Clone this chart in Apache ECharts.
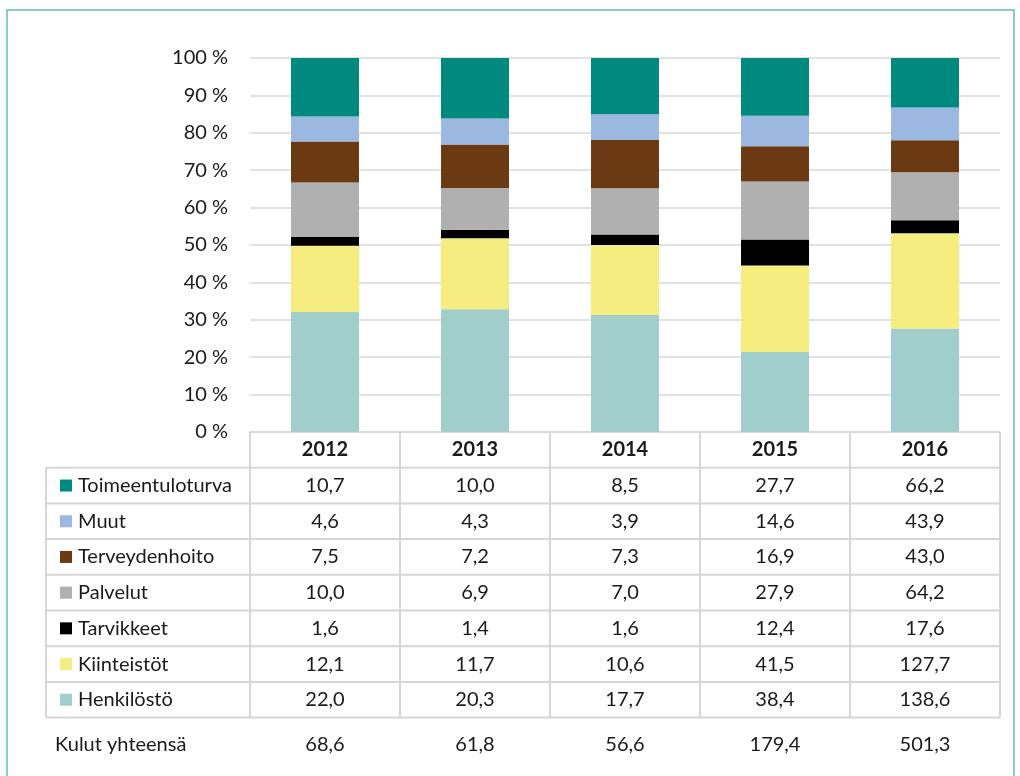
<!DOCTYPE html>
<html>
<head>
<meta charset="utf-8">
<script src="https://cdn.jsdelivr.net/npm/echarts@6/dist/echarts.min.js"></script>
<style>
  html, body { margin: 0; padding: 0; background: #fff; }
  #chart { width: 1020px; height: 776px; }
</style>
</head>
<body>
<div id="chart"></div>
<script>
// Expense categories per year (millions), 2012–2016
const years = ['2012', '2013', '2014', '2015', '2016'];
const henkilosto = [22.0, 20.3, 17.7, 38.4, 138.6];
const kiinteistot = [12.1, 11.7, 10.6, 41.5, 127.7];
const tarvikkeet = [1.6, 1.4, 1.6, 12.4, 17.6];
const palvelut = [10.0, 6.9, 7.0, 27.9, 64.2];
const terveydenhoito = [7.5, 7.2, 7.3, 16.9, 43.0];
const muut = [4.6, 4.3, 3.9, 14.6, 43.9];
const toimeentuloturva = [10.7, 10.0, 8.5, 27.7, 66.2];
const totals = [68.6, 61.8, 56.6, 179.4, 501.3];
const yTicks = [0, 10, 20, 30, 40, 50, 60, 70, 80, 90, 100];

// Stacking order, bottom to top
const seriesDefs = [
  { name: 'Henkilöstö', data: henkilosto, color: '#a1cdca' },
  { name: 'Kiinteistöt', data: kiinteistot, color: '#f6ed80' },
  { name: 'Tarvikkeet', data: tarvikkeet, color: '#000000' },
  { name: 'Palvelut', data: palvelut, color: '#b0b0b0' },
  { name: 'Terveydenhoito', data: terveydenhoito, color: '#6b3a13' },
  { name: 'Muut', data: muut, color: '#9bb8e0' },
  { name: 'Toimeentuloturva', data: toimeentuloturva, color: '#00897e' }
];
// Table rows, top to bottom
const tableRows = seriesDefs.slice().reverse();

const FONT = 'Lato, "Open Sans", sans-serif';
const TXT = '#1a1a1a';
const LINE = '#d6d6d6';
const fmt = v => v.toFixed(1).replace('.', ',');

const W = 1020, H = 776;
const gridLeft = 250, gridRight = 1000, gridTop = 58, gridBottom = 432;
const rowH = 35.7;
const tableLeft = 46;
const colW = (gridRight - gridLeft) / years.length;

// Percentage shares of each year's sum
const sums = years.map((_, i) => seriesDefs.reduce((s, d) => s + d.data[i], 0));

const series = seriesDefs.map(d => ({
  name: d.name,
  type: 'bar',
  stack: 'all',
  barWidth: 68,
  itemStyle: { color: d.color },
  data: d.data.map((v, i) => v / sums[i] * 100),
  emphasis: { disabled: true }
}));

const xAxes = [{
  type: 'category',
  data: years,
  axisLine: { show: false },
  axisTick: { show: false },
  axisLabel: { fontFamily: FONT, fontSize: 20, fontWeight: 'bold', color: TXT, verticalAlign: 'middle', margin: rowH / 2 }
}];
tableRows.forEach((r, k) => {
  xAxes.push({
    type: 'category',
    data: r.data.map(fmt),
    position: 'bottom',
    offset: rowH * (k + 1),
    axisLine: { show: false },
    axisTick: { show: false },
    axisLabel: { interval: 0, fontFamily: FONT, fontSize: 20, color: TXT, verticalAlign: 'middle', margin: rowH / 2 }
  });
});
xAxes.push({
  type: 'category',
  data: totals.map(fmt),
  position: 'bottom',
  offset: 313,
  axisLine: { show: false },
  axisTick: { show: false },
  axisLabel: { interval: 0, fontFamily: FONT, fontSize: 20, color: TXT, verticalAlign: 'middle', margin: 0 }
});

// Table borders
const graphics = [];
const lineStyle = { stroke: LINE, lineWidth: 2 };
const hline = (x1, x2, y) => graphics.push({ type: 'line', shape: { x1, y1: y, x2, y2: y }, style: lineStyle, silent: true });
const vline = (x, y1, y2) => graphics.push({ type: 'line', shape: { x1: x, y1, x2: x, y2 }, style: lineStyle, silent: true });
const tableBottom = gridBottom + rowH * (tableRows.length + 1);
hline(gridLeft, gridRight, gridBottom);
for (let k = 1; k <= tableRows.length + 1; k++) hline(tableLeft, gridRight, gridBottom + rowH * k);
vline(tableLeft, gridBottom + rowH, tableBottom);
for (let c = 0; c <= years.length; c++) vline(gridLeft + colW * c, gridBottom, tableBottom);
graphics.push({
  type: 'text', left: 55, top: 735,
  style: { text: 'Kulut yhteensä', fontFamily: FONT, fontSize: 20, fill: TXT }, silent: true
});
// Outer frame
graphics.push({
  type: 'rect', shape: { x: 7, y: 10, width: 1007, height: 800 },
  style: { fill: 'none', stroke: '#8ecbc6', lineWidth: 2 }, silent: true, z: -1
});

const chart = echarts.init(document.getElementById('chart'), null, { renderer: 'canvas' });
chart.setOption({
  animation: false,
  backgroundColor: '#fff',
  grid: { left: gridLeft, right: W - gridRight, top: gridTop, bottom: H - gridBottom },
  legend: {
    orient: 'vertical',
    left: 55,
    top: gridBottom + rowH + (rowH - 20) / 2 - 5,
    icon: 'rect',
    itemWidth: 12,
    itemHeight: 12,
    itemGap: rowH - 20,
    selectedMode: false,
    data: tableRows.map(r => r.name),
    textStyle: { fontFamily: FONT, fontSize: 20, color: TXT, lineHeight: 20, padding: [0, 0, 0, 1] }
  },
  xAxis: xAxes,
  yAxis: {
    type: 'value',
    min: yTicks[0],
    max: yTicks[yTicks.length - 1],
    interval: 10,
    axisLine: { show: false },
    axisTick: { show: false },
    splitLine: { lineStyle: { color: '#d9d9d9', width: 1.5 } },
    axisLabel: { formatter: '{value} %', fontFamily: FONT, fontSize: 20, color: TXT, margin: 22 }
  },
  series: series,
  graphic: graphics
});
</script>
</body>
</html>
